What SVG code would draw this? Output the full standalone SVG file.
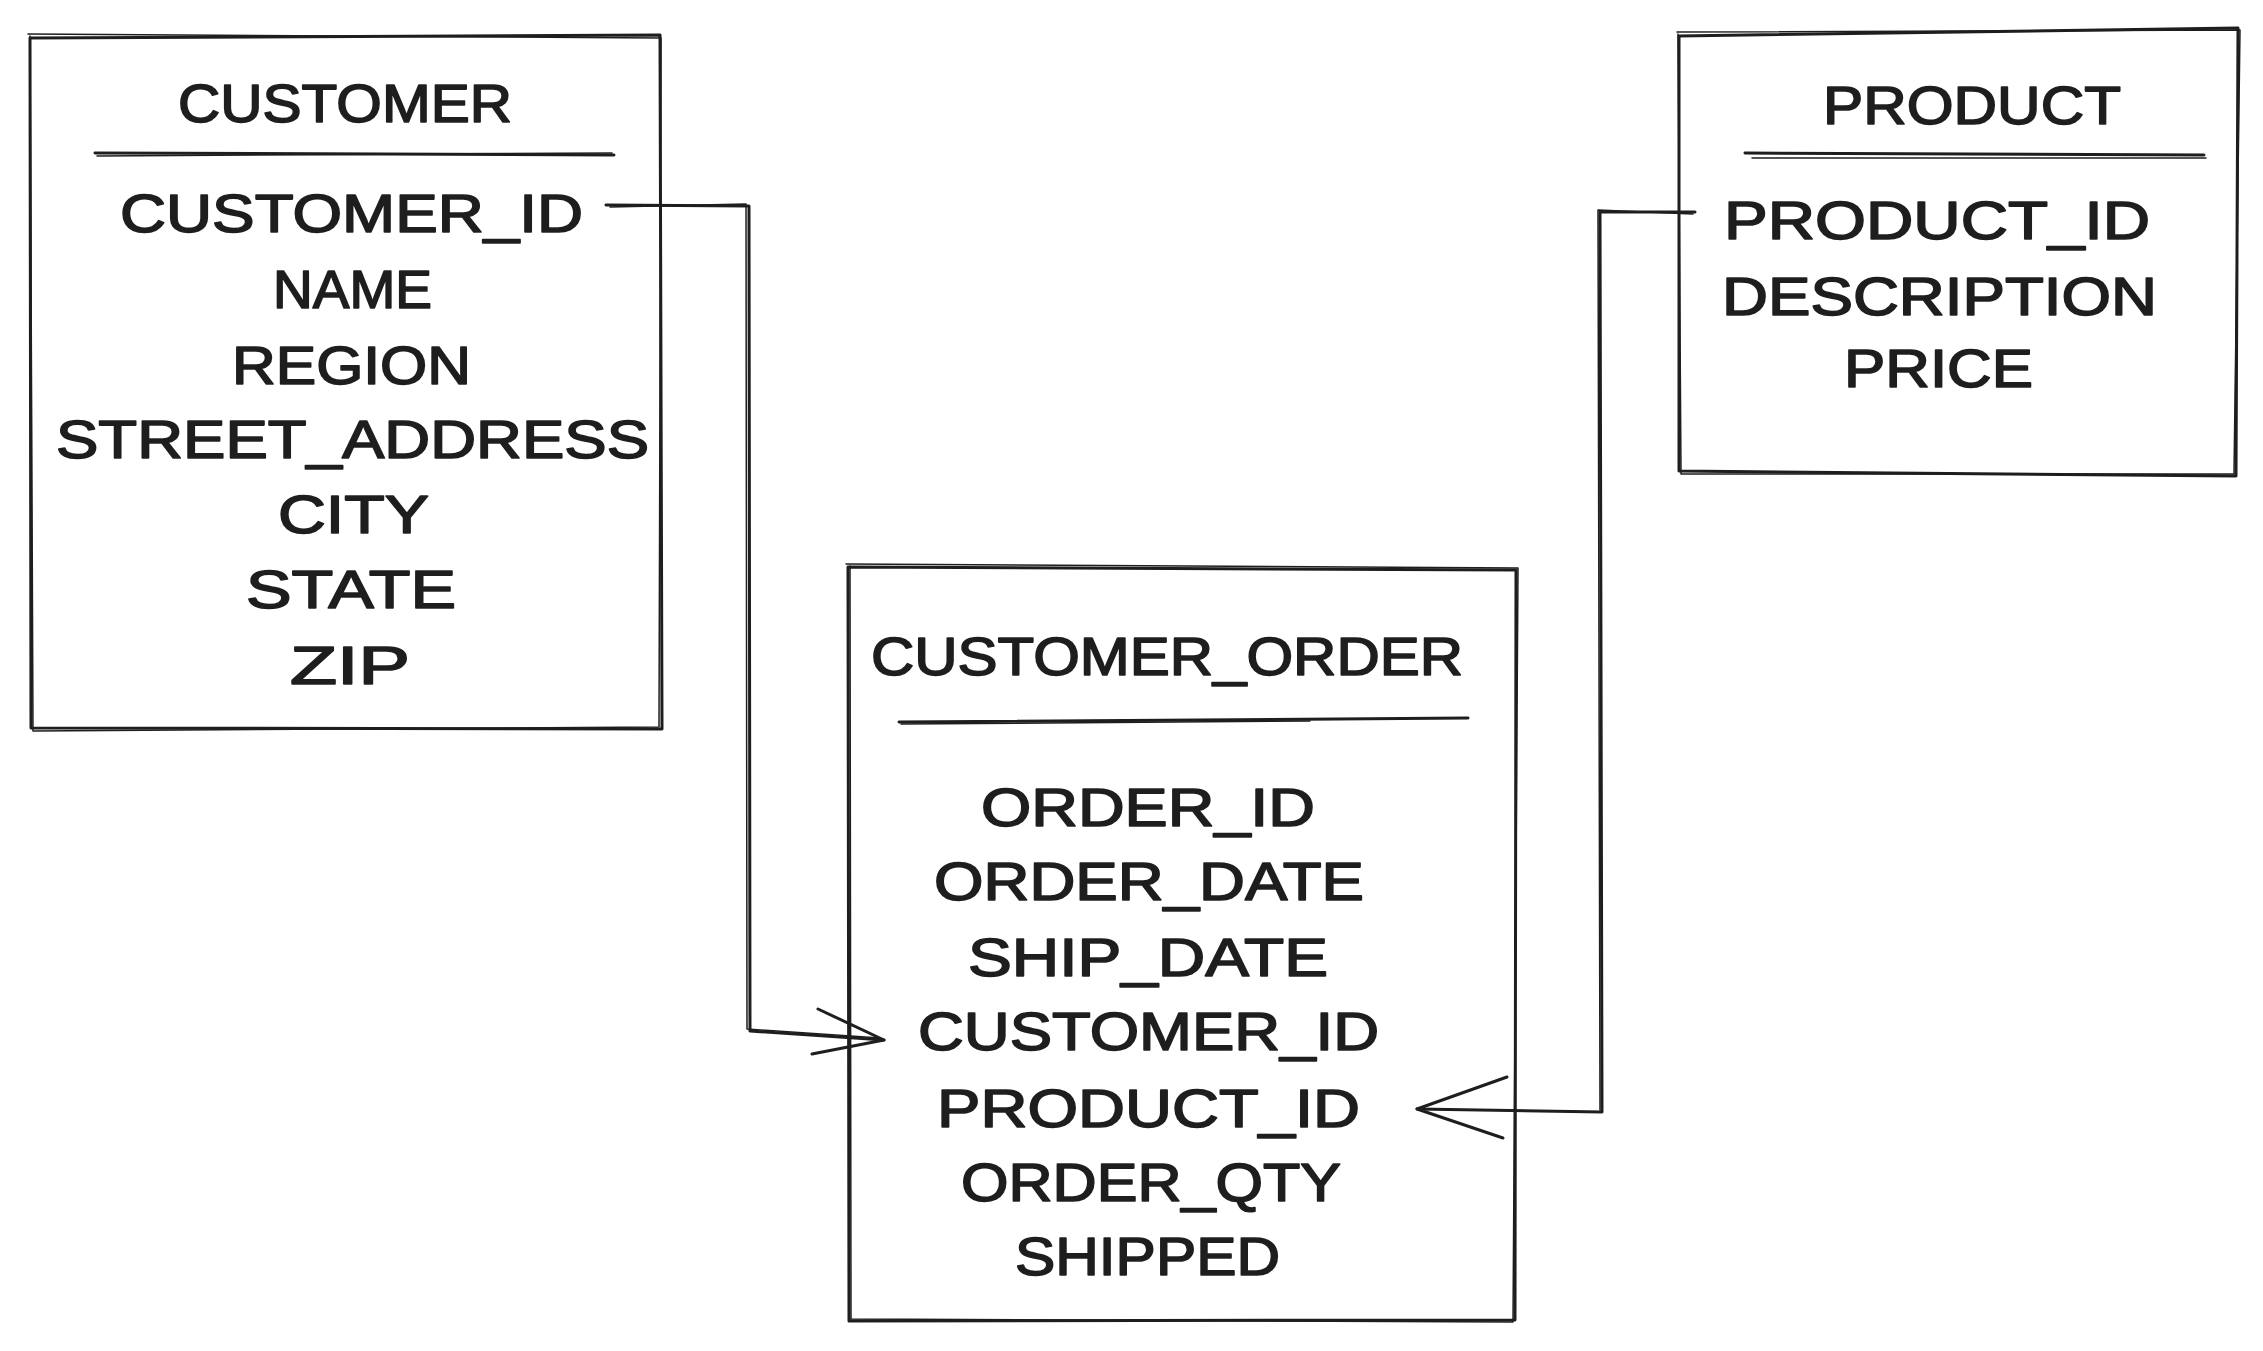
<svg xmlns="http://www.w3.org/2000/svg" width="2263" height="1351" viewBox="0 0 2263 1351">
<style>
.bg{fill:#ffffff}
.s{fill:none;stroke:#1e1e1e;stroke-width:3;stroke-linecap:round;stroke-linejoin:round}
.s2{fill:none;stroke:#1e1e1e;stroke-width:1.5;stroke-linecap:round;stroke-linejoin:round}
.t{font-family:"Liberation Sans",Arial,sans-serif;font-size:53px;fill:#1e1e1e;stroke:#1e1e1e;stroke-width:1.6;stroke-linejoin:round}
</style>
<rect class="bg" x="0" y="0" width="2263" height="1351"/>
<g id="customer">
<path class="s" d="M30,38 L660,35 L662,729 L31,728 Z"/>
<path class="s2" d="M28,34 L661,38 L659,727 L33,731 L30,36"/>
<text class="t" x="178" y="122" textLength="334" lengthAdjust="spacingAndGlyphs">CUSTOMER</text>
<path class="s" d="M95,153 L614,155"/>
<path class="s2" d="M97,156 L612,153"/>
<text class="t" x="120" y="232" textLength="463" lengthAdjust="spacingAndGlyphs">CUSTOMER_ID</text>
<text class="t" x="273" y="308" textLength="159" lengthAdjust="spacingAndGlyphs">NAME</text>
<text class="t" x="232" y="384" textLength="239" lengthAdjust="spacingAndGlyphs">REGION</text>
<text class="t" x="56" y="458" textLength="593" lengthAdjust="spacingAndGlyphs">STREET_ADDRESS</text>
<text class="t" x="278" y="533" textLength="151" lengthAdjust="spacingAndGlyphs">CITY</text>
<text class="t" x="246" y="608" textLength="210" lengthAdjust="spacingAndGlyphs">STATE</text>
<text class="t" x="290" y="684" textLength="120" lengthAdjust="spacingAndGlyphs">ZIP</text>
</g>
<g id="product">
<path class="s" d="M1679,36 L2238,28 L2236,476 L1679,471 Z"/>
<path class="s2" d="M1677,32 L2240,30 L2234,474 L1681,474 L1678,34"/>
<text class="t" x="1823" y="124" textLength="298" lengthAdjust="spacingAndGlyphs">PRODUCT</text>
<path class="s" d="M1745,153 L2204,155"/>
<path class="s2" d="M1752,158 L2206,158"/>
<text class="t" x="1724" y="239" textLength="426" lengthAdjust="spacingAndGlyphs">PRODUCT_ID</text>
<text class="t" x="1722" y="315" textLength="435" lengthAdjust="spacingAndGlyphs">DESCRIPTION</text>
<text class="t" x="1844" y="387" textLength="189" lengthAdjust="spacingAndGlyphs">PRICE</text>
</g>
<g id="customer_order">
<path class="s" d="M848,567 L1516,570 L1515,1320 L849,1321 Z"/>
<path class="s2" d="M846,564 L1518,568 L1513,1322 L851,1319 L850,566"/>
<text class="t" x="871" y="675" textLength="592" lengthAdjust="spacingAndGlyphs">CUSTOMER_ORDER</text>
<path class="s" d="M899,722 L1468,718"/>
<path class="s2" d="M901,724 L1310,721"/>
<text class="t" x="981" y="826" textLength="334" lengthAdjust="spacingAndGlyphs">ORDER_ID</text>
<text class="t" x="934" y="900" textLength="430" lengthAdjust="spacingAndGlyphs">ORDER_DATE</text>
<text class="t" x="968" y="976" textLength="360" lengthAdjust="spacingAndGlyphs">SHIP_DATE</text>
<text class="t" x="918" y="1050" textLength="461" lengthAdjust="spacingAndGlyphs">CUSTOMER_ID</text>
<text class="t" x="937" y="1127" textLength="423" lengthAdjust="spacingAndGlyphs">PRODUCT_ID</text>
<text class="t" x="961" y="1201" textLength="380" lengthAdjust="spacingAndGlyphs">ORDER_QTY</text>
<text class="t" x="1015" y="1275" textLength="265" lengthAdjust="spacingAndGlyphs">SHIPPED</text>
</g>
<g id="connectors">
<path class="s" d="M606,205 L749,206 L750,1031 L884,1040"/>
<path class="s2" d="M610,207 L746,204 L747,1029 L880,1038"/>
<path class="s" d="M818,1009 L884,1040 L812,1054"/>
<path class="s" d="M1695,212 L1600,212 L1602,1112 L1417,1109"/>
<path class="s2" d="M1693,214 L1598,210 L1600,1110"/>
<path class="s" d="M1507,1077 L1417,1109 L1503,1138"/>
</g>
</svg>
